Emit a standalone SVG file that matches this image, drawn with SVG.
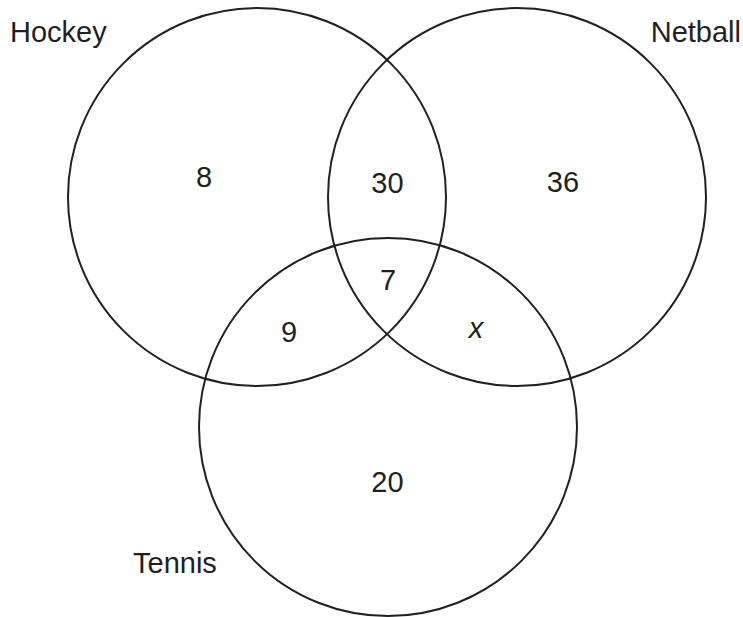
<svg xmlns="http://www.w3.org/2000/svg" width="743" height="617" viewBox="0 0 743 617">
<style>
.c{fill:none;stroke:#231f20;stroke-width:2}
text{font-family:"Liberation Sans",Arial,sans-serif;font-size:29px;fill:#231f20}
.m{text-anchor:middle}
</style>
<rect width="743" height="617" fill="#fff"/>
<g id="hockey">
<circle class="c" cx="257" cy="197" r="189"/>
<text x="10" y="42">Hockey</text>
</g>
<g id="netball">
<circle class="c" cx="517" cy="197" r="189"/>
<text x="741" y="42" text-anchor="end">Netball</text>
</g>
<g id="tennis">
<circle class="c" cx="388" cy="427" r="189"/>
<text x="133" y="573">Tennis</text>
</g>
<g id="values">
<text class="m" x="204" y="187">8</text>
<text class="m" x="387.5" y="193">30</text>
<text class="m" x="563" y="192">36</text>
<text class="m" x="388" y="290">7</text>
<text class="m" x="289" y="342">9</text>
<text class="m" x="476" y="338" font-style="italic">x</text>
<text class="m" x="387.5" y="492">20</text>
</g>
</svg>
